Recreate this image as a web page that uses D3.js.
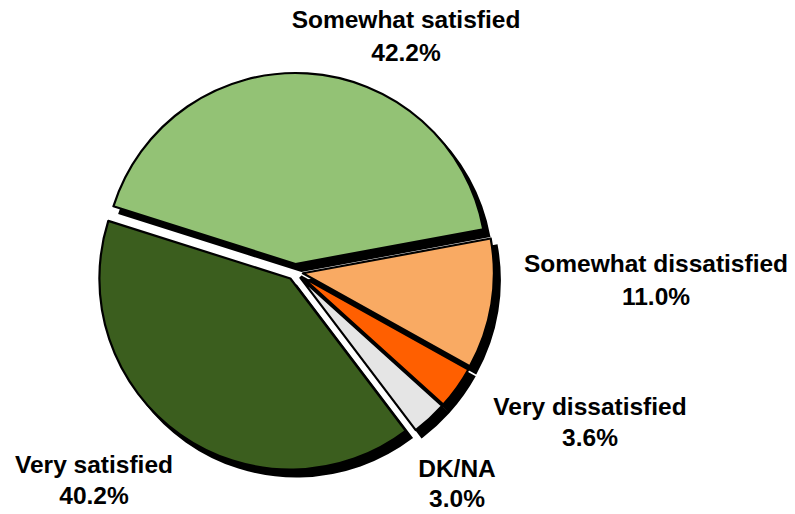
<!DOCTYPE html>
<html>
<head>
<meta charset="utf-8">
<script src="https://cdn.jsdelivr.net/npm/d3@7/dist/d3.min.js"></script>
<style>
  html, body { margin: 0; padding: 0; background: #ffffff; }
  svg { display: block; }
  text { font-family: "Liberation Sans", Arial, sans-serif; font-weight: bold; fill: #000; }
</style>
</head>
<body>
<svg id="chart" width="795" height="514"></svg>
<script>
// ---- data (clockwise order, starting at the right side) ----
const categories = ["Somewhat dissatisfied", "Very dissatisfied", "DK/NA", "Very satisfied", "Somewhat satisfied"];
const values = [11.0, 3.6, 3.0, 40.2, 42.2];
const valueLabels = ["11.0%", "3.6%", "3.0%", "40.2%", "42.2%"];
const colors = ["#F9AA63", "#FF5F00", "#E5E5E5", "#3B5E1E", "#93C275"];

// ---- layout ----
const W = 795, H = 514;
const cx = 295, cy = 272, R = 191, explode = 8;
const startDeg = 79.5;
const shadow = { dx: 6, dy: 7 };
const labelPos = [
  { x: 656, y: 272, gap: 33 },
  { x: 590, y: 415, gap: 31 },
  { x: 457, y: 477, gap: 30 },
  { x: 94,  y: 473, gap: 31 },
  { x: 406, y: 28,  gap: 33 }
];

const svg = d3.select("#chart");
const data = categories.map((c, i) => ({ name: c, value: values[i], label: valueLabels[i], color: colors[i], pos: labelPos[i] }));

const start = startDeg * Math.PI / 180;
const pie = d3.pie().sort(null).value(d => d.value).startAngle(start).endAngle(start + 2 * Math.PI);
const arcs = pie(data);
const arc = d3.arc().innerRadius(0).outerRadius(R);

function offset(d) {
  const a = (d.startAngle + d.endAngle) / 2;
  return [cx + explode * Math.sin(a), cy - explode * Math.cos(a)];
}

const g = svg.append("g");

// shadows first
g.selectAll("path.shadow").data(arcs).join("path")
  .attr("class", "shadow")
  .attr("d", arc)
  .attr("transform", d => { const o = offset(d); return `translate(${o[0] + shadow.dx},${o[1] + shadow.dy})`; })
  .attr("fill", "#000")
  .attr("stroke", "#000")
  .attr("stroke-width", 2);

// slices
g.selectAll("path.slice").data(arcs).join("path")
  .attr("class", "slice")
  .attr("d", arc)
  .attr("transform", d => { const o = offset(d); return `translate(${o[0]},${o[1]})`; })
  .attr("fill", d => d.data.color)
  .attr("stroke", "#000")
  .attr("stroke-width", 2.2)
  .attr("stroke-linejoin", "round");

// labels
const lab = svg.selectAll("text.lbl").data(data).join("text")
  .attr("class", "lbl")
  .attr("text-anchor", "middle")
  .style("font-size", "24.5px");
lab.append("tspan").attr("x", d => d.pos.x).attr("y", d => d.pos.y).text(d => d.name);
lab.append("tspan").attr("x", d => d.pos.x).attr("y", d => d.pos.y + d.pos.gap).text(d => d.label);
</script>
</body>
</html>
